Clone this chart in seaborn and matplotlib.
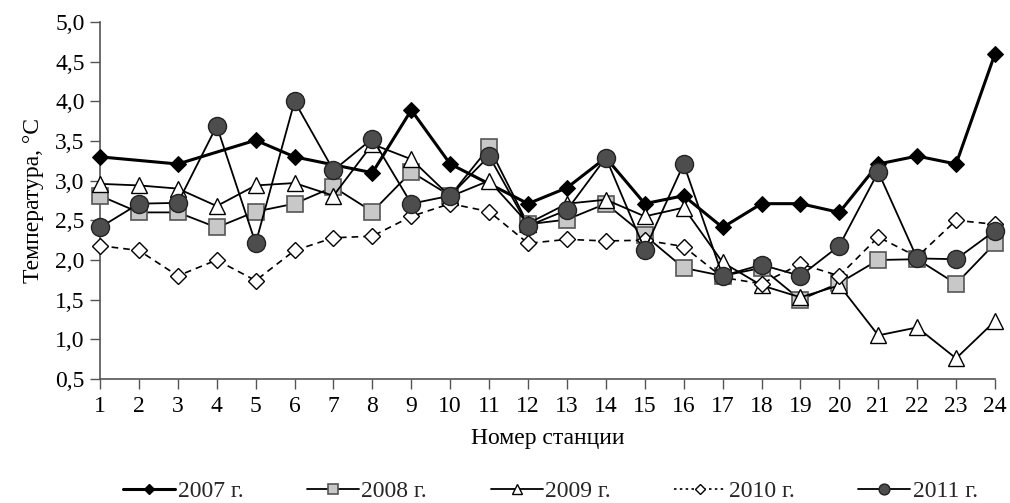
import numpy as np
import pandas as pd
import matplotlib
matplotlib.use("Agg")
import matplotlib.pyplot as plt
from matplotlib.ticker import FuncFormatter
from matplotlib.lines import Line2D
import seaborn as sns

stations = list(range(1, 25))
t2007 = [3.30, np.nan, 3.21, np.nan, 3.51, 3.30, np.nan, 3.10, 3.89, 3.21, np.nan, 2.71,
         2.91, 3.29, 2.71, 2.81, 2.41, 2.71, 2.71, 2.60, 3.21, 3.31, 3.21, 4.60]
t2008 = [2.81, 2.60, 2.60, 2.41, 2.61, 2.71, 2.92, 2.61, 3.11, 2.81, 3.42, 2.45,
         2.51, 2.71, 2.31, 1.90, 1.80, 1.90, 1.50, 1.71, 2.00, 2.01, 1.70, 2.21]
t2009 = [2.96, 2.94, 2.90, 2.68, 2.94, 2.97, 2.81, 3.46, 3.27, 2.80, 3.00, 2.46,
         2.71, 2.76, 2.55, 2.66, 1.97, 1.68, 1.53, 1.68, 1.05, 1.15, 0.76, 1.23]
t2010 = [2.18, 2.12, 1.80, 2.00, 1.74, 2.12, 2.28, 2.30, 2.55, 2.71, 2.61, 2.21,
         2.26, 2.24, 2.25, 2.17, 1.78, 1.70, 1.95, 1.80, 2.29, 2.04, 2.50, 2.45]
t2011 = [2.41, 2.71, 2.72, 3.69, 2.21, 4.00, 3.13, 3.53, 2.71, 2.81, 3.31, 2.43,
         2.63, 3.29, 2.13, 3.21, 1.80, 1.94, 1.80, 2.18, 3.11, 2.02, 2.01, 2.37]
series_labels = ["2007 г.", "2008 г.", "2009 г.", "2010 г.", "2011 г."]
yticks = [0.5, 1.0, 1.5, 2.0, 2.5, 3.0, 3.5, 4.0, 4.5, 5.0]

sns.set_theme(style="white")
plt.rcParams['font.family'] = ['Liberation Serif', 'DejaVu Serif']
plt.rcParams['font.size'] = 16

fig = plt.figure(figsize=(10.10, 5.03), dpi=100)
ax = fig.add_axes([100/1010, 1-379/503, (995-100)/1010, (379-22)/503])

styles = [
    dict(marker='D', markersize=8, markerfacecolor='black', markeredgecolor='black',
         color='black', linewidth=2.2, linestyle='-'),
    dict(marker='s', markersize=12, markerfacecolor='#c8c8c8', markeredgecolor='#555555',
         markeredgewidth=1.2, color='black', linewidth=1.3, linestyle='-'),
    dict(marker='^', markersize=12, markerfacecolor='white', markeredgecolor='black',
         markeredgewidth=1.0, color='black', linewidth=1.3, linestyle='-'),
    dict(marker='D', markersize=8, markerfacecolor='white', markeredgecolor='black',
         markeredgewidth=1.0, color='black', linewidth=1.2, linestyle=(0, (4, 3))),
    dict(marker='o', markersize=13, markerfacecolor='#4d4d4d', markeredgecolor='#222222',
         markeredgewidth=1.0, color='black', linewidth=1.3, linestyle='-'),
]

all_series = [t2007, t2008, t2009, t2010, t2011]
for i, (vals, lab, st) in enumerate(zip(all_series, series_labels, styles)):
    df = pd.DataFrame({"station": stations, "temp": vals}).dropna()
    sns.lineplot(data=df, x="station", y="temp", ax=ax, estimator=None, sort=False,
                 label=lab, zorder=3 + i, clip_on=False, **st)
ax.get_legend().remove()

ax.set_xlim(1, 24)
ax.set_ylim(0.5, 5.0)
ax.set_xticks(stations)
ax.set_yticks(yticks)
ax.yaxis.set_major_formatter(FuncFormatter(lambda v, p: f"{v:.1f}".replace('.', ',')))
for s in ['top', 'right']:
    ax.spines[s].set_visible(False)
for s in ['left', 'bottom']:
    ax.spines[s].set_color('#555555')
    ax.spines[s].set_linewidth(1.2)
ax.tick_params(axis='both', which='major', direction='out', length=7, width=1,
               color='#555555', labelsize=17, labelcolor='black', bottom=True, left=True)
ax.tick_params(axis='x', pad=5)
ax.tick_params(axis='y', pad=4)
ax.set_xlabel("Номер станции", fontsize=17, labelpad=8, color='black')
ax.set_ylabel("Температура, °C", fontsize=17, labelpad=8, color='black')
ax.grid(False)

# smaller legend markers, as in the reference
leg_handles = []
for st, lab in zip(styles, series_labels):
    s2 = dict(st)
    s2['markersize'] = st['markersize'] * 0.6
    s2['linestyle'] = (0, (1.5, 2)) if lab.startswith("2010") else '-'
    leg_handles.append(Line2D([], [], **s2))

fig.legend(leg_handles, series_labels, loc='lower center', bbox_to_anchor=(0.545, -0.04),
           ncol=5, frameon=False, fontsize=17, handlelength=2.2, columnspacing=2.7,
           handletextpad=0.1)

fig.savefig("out.png", dpi=100)
